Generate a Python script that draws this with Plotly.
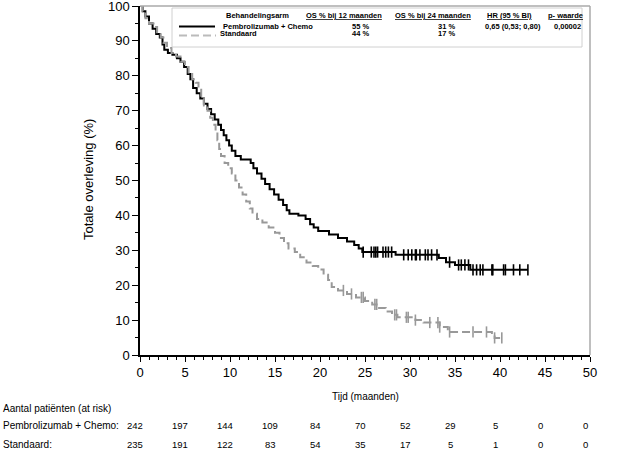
import numpy as np
import plotly.graph_objects as go

# ---- Data ----
pem_t = [0, 0.3, 0.6, 1.0, 1.4, 1.8, 2.2, 2.5, 2.7, 3.1, 3.6, 4.1, 4.5, 4.9, 5.3, 5.6, 5.9,
         6.3, 6.7, 7.1, 7.5, 7.9, 8.3, 8.7, 9.0, 9.3, 9.6, 9.9, 10.2, 10.6, 11.2, 12.3, 12.6,
         13.0, 13.5, 13.9, 14.4, 14.9, 15.4, 15.9, 16.3, 16.6, 17.6, 18.4, 18.9, 19.3, 19.8,
         21.0, 22.0, 23.0, 23.8, 24.3, 24.7, 28.4, 33.2, 34.0, 35.0, 36.7]
pem_s = [100, 98.5, 97, 95, 93.5, 92, 91, 89, 87.5, 86.5, 86, 85, 84, 82.5, 80.5, 79, 76.5,
         75, 73.5, 72, 70.5, 69, 67.5, 66, 64.5, 63, 61.5, 60, 58.5, 57, 56, 55, 53.5,
         52, 50.5, 49, 47.5, 46, 44.5, 43, 41.5, 40.5, 40, 39, 37.5, 36.5, 35.5,
         34.5, 33.5, 32.5, 31.5, 30.5, 29.5, 28.7, 27.8, 26.6, 25.8, 24.4]
pem_end = 43.1
pem_cens = [24.8, 25.7, 26.0, 26.2, 26.4, 27.0, 27.3, 27.6, 27.96, 29.3, 29.8, 30.2, 30.6,
            30.7, 31.1, 31.7, 32.0, 32.4, 33.0, 34.4, 35.4, 35.7, 36.1, 36.5, 37.0, 37.4,
            37.8, 38.1, 39.1, 39.2, 40.4, 40.6, 41.5, 42.2, 43.1]

std_t = [0, 0.3, 0.6, 1.0, 1.5, 1.9, 2.3, 2.6, 3.0, 3.5, 4.0, 4.5, 5.0, 5.4, 5.8, 6.2, 6.5,
         6.8, 7.1, 7.5, 7.8, 8.1, 8.4, 8.6, 8.8, 9.0, 9.4, 9.8, 10.2, 10.6, 11.0, 11.4, 11.8,
         12.2, 12.5, 13.0, 13.6, 14.3, 15.0, 15.5, 16.0, 16.5, 17.2, 17.8, 18.5, 19.2, 19.8,
         20.4, 20.9, 21.3, 22.0, 23.0, 24.0, 25.0, 25.8, 26.4, 27.3, 28.0, 28.6, 30.6, 31.5,
         33.3, 34.2, 39.1, 39.4]
std_s = [100, 98.5, 96.5, 95, 94, 92.5, 91, 89.5, 88, 86.5, 85.5, 84, 82.5, 80.5, 79, 78, 76,
         73.5, 71.5, 70, 68, 66, 64, 61.5, 59, 57, 55, 53.5, 52, 50, 48, 46, 44,
         42, 40.5, 39, 38, 36.5, 35, 33.5, 32, 30.5, 29.5, 28, 26.5, 25.5, 24.5,
         23, 21.5, 19.5, 18.5, 17.5, 16.5, 15.5, 14.5, 13.5, 12.5, 11.5, 10.8, 10.0, 9.3,
         8.0, 6.6, 5.7, 4.9]
std_end = 40.2
std_cens = [22.6, 23.5, 24.6, 24.8, 26.1, 26.3, 28.3, 28.5, 29.6, 29.8, 30.6, 32.2, 33.1,
            33.3, 34.4, 37.0, 38.5, 39.4, 40.2]

risk_times = [0, 5, 10, 15, 20, 25, 30, 35, 40, 45, 50]
risk_pem = [242, 197, 144, 109, 84, 70, 52, 29, 5, 0, 0]
risk_std = [235, 191, 122, 83, 54, 35, 17, 5, 1, 0, 0]

arm_names = ["Pembrolizumab + Chemo", "Standaard"]
os12 = ["55 %", "44 %"]
os24 = ["31 %", "17 %"]
hr_text = "0,65 (0,53; 0,80)"
p_text = "0,00002"

BLACK = "#000000"
GREY = "#999999"
FONT = "Liberation Sans, Arial, sans-serif"


def step_at(ts, ss, tq):
    ts = np.asarray(ts)
    idx = np.searchsorted(ts, np.asarray(tq), side="right") - 1
    return np.asarray(ss)[idx]


fig = go.Figure()

for ts, ss, tend, cens, col, dash in [
    (pem_t, pem_s, pem_end, pem_cens, BLACK, "solid"),
    (std_t, std_s, std_end, std_cens, GREY, "8px,4px"),
]:
    x = list(ts) + [tend]
    y = list(ss) + [ss[-1]]
    fig.add_trace(go.Scatter(x=x, y=y, mode="lines", line_shape="hv",
                             line=dict(color=col, width=2, dash=dash),
                             showlegend=False, hoverinfo="skip"))
    fig.add_trace(go.Scatter(x=cens, y=step_at(ts, ss, cens), mode="markers",
                             marker=dict(symbol="line-ns", size=8,
                                         line=dict(color=col, width=1.6)),
                             showlegend=False, hoverinfo="skip"))

# Plot area in pixels: x 140..590, y 6..355
L, R, T, B = 140, 590, 6, 355
W, H = R - L, B - T


def px(xp):
    return (xp - L) / W


def py(yp):
    return (B - yp) / H


fig.update_layout(
    width=635, height=463,
    margin=dict(l=L, r=635 - R, t=T, b=463 - B, autoexpand=False),
    paper_bgcolor="white", plot_bgcolor="white",
    font=dict(family=FONT, color="black"),
    xaxis=dict(range=[0, 50], tickvals=risk_times, ticks="outside", ticklen=5,
               tickcolor="black", showline=True, linecolor="black", linewidth=1.5,
               showgrid=False, zeroline=False, tickfont=dict(size=13), automargin=False,
               ticklabeloverflow="allow",
               minor=dict(dtick=1, ticks="outside", ticklen=3, tickcolor="black")),
    yaxis=dict(range=[0, 100], dtick=10, ticks="outside", ticklen=6,
               tickcolor="black", showline=True, linecolor="black", linewidth=1.5,
               showgrid=False, zeroline=False, tickfont=dict(size=13), automargin=False,
               ticklabeloverflow="allow",
               minor=dict(dtick=5, ticks="outside", ticklen=3, tickcolor="black")),
)

shapes = [
    dict(type="line", xref="paper", yref="paper", x0=0, x1=1, y0=1, y1=1,
         line=dict(color="#aaaaaa", width=1.5)),
    dict(type="line", xref="paper", yref="paper", x0=1, x1=1, y0=0, y1=1,
         line=dict(color="#aaaaaa", width=1.5)),
    dict(type="rect", xref="paper", yref="paper", x0=px(172), x1=px(582),
         y0=py(47), y1=py(8), line=dict(color="#d0d0d0", width=1), fillcolor="white"),
    dict(type="line", xref="paper", yref="paper", x0=px(179), x1=px(215),
         y0=py(26.5), y1=py(26.5), line=dict(color=BLACK, width=2)),
    dict(type="line", xref="paper", yref="paper", x0=px(179), x1=px(216),
         y0=py(35.5), y1=py(35.5), line=dict(color="#bbbbbb", width=2, dash="8px,4px")),
]
fig.update_layout(shapes=shapes)

ann = []


def add_text(text, xp, yp, size=7.5, anchor="center", bold=True, angle=0):
    ann.append(dict(text=("<b>%s</b>" % text) if bold else text,
                    xref="paper", yref="paper", x=px(xp), y=py(yp),
                    xanchor=anchor, yanchor="middle", showarrow=False, borderpad=0,
                    textangle=angle, font=dict(size=size, family=FONT, color="black")))


# legend table
add_text("Behandelingsarm", 257, 15.5)
add_text("<u>OS % bij 12 maanden</u>", 344, 15.5)
add_text("<u>OS % bij 24 maanden</u>", 433, 15.5)
add_text("<u>HR (95 % BI)</u>", 509, 15.5)
add_text("<u>p- waarde</u>", 565, 15.5)
add_text(arm_names[0], 222, 26, anchor="left")
add_text(arm_names[1], 219, 34, anchor="left")
add_text(os12[0], 360, 26)
add_text(os12[1], 360, 34)
add_text(os24[0], 446, 26)
add_text(os24[1], 446, 34)
add_text(hr_text, 513, 26)
add_text(p_text, 567, 26)

# axis titles
add_text("Tijd (maanden)", 365, 396, size=10, bold=False)
add_text("Totale overleving (%)", 88, 180, size=13, bold=False, angle=-90)

# risk table
add_text("Aantal patiënten (at risk)", 2, 408, size=10, anchor="left", bold=False)
add_text(arm_names[0] + ":", 2, 425, size=10, anchor="left", bold=False)
add_text(arm_names[1] + ":", 2, 444, size=10, anchor="left", bold=False)
for tt, a, b in zip(risk_times, risk_pem, risk_std):
    ann.append(dict(text=str(a), xref="x", yref="paper", x=tt, y=py(425), xshift=-5,
                    xanchor="center", yanchor="middle", showarrow=False,
                    font=dict(size=9.5, family=FONT, color="black")))
    ann.append(dict(text=str(b), xref="x", yref="paper", x=tt, y=py(444), xshift=-5,
                    xanchor="center", yanchor="middle", showarrow=False,
                    font=dict(size=9.5, family=FONT, color="black")))

fig.update_layout(annotations=ann)
fig.write_html("out.html", config={"displayModeBar": False},
               post_script="document.body.style.margin='0';document.body.style.overflow='hidden';")
